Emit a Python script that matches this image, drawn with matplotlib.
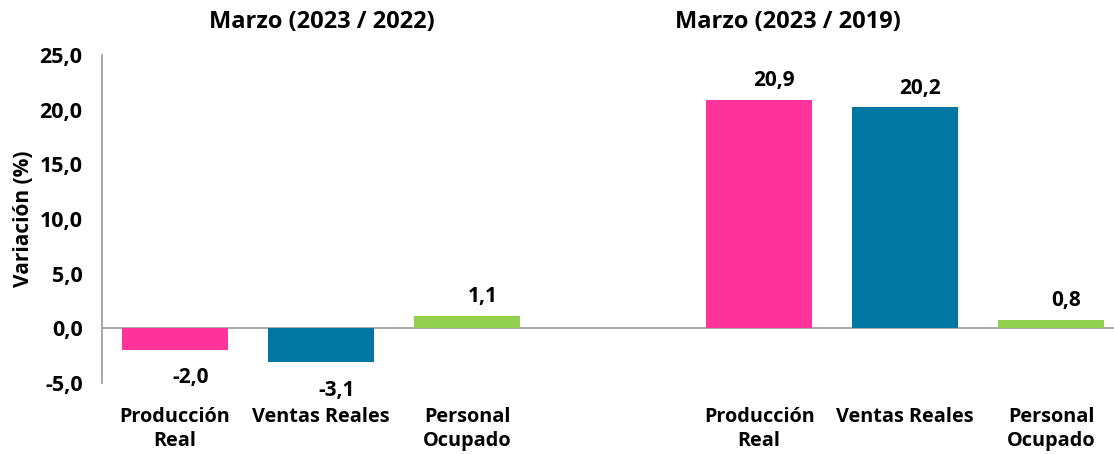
import matplotlib.pyplot as plt

plt.rcParams['font.family'] = ['Open Sans', 'DejaVu Sans']

# Data
categories = ["Producción\nReal", "Ventas Reales", "Personal\nOcupado"]
var_2023_2022 = [-2.0, -3.1, 1.1]
var_2023_2019 = [20.9, 20.2, 0.8]
colors = ["#FF3399", "#0077A2", "#92D050"]
titles = ["Marzo (2023 / 2022)", "Marzo (2023 / 2019)"]

fig = plt.figure(figsize=(11.14, 4.54), dpi=100)
ax = fig.add_axes([102 / 1114, 1 - 383 / 454, 1 - 102 / 1114, 328 / 454])

pos1 = [0, 1, 2]
pos2 = [4, 5, 6]
values = var_2023_2022 + var_2023_2019
positions = pos1 + pos2

bars = ax.bar(positions, values, width=0.726, color=colors * 2, zorder=2)

# value labels
for b, v in zip(bars, values):
    x = b.get_x() + b.get_width() / 2
    txt = f"{v:.1f}".replace(".", ",")
    if v >= 0:
        ax.annotate(txt, (x, v), xytext=(11, 14), textcoords="offset points",
                    ha="center", va="center", fontsize=15, fontweight="bold")
    else:
        ax.annotate(txt, (x, v), xytext=(11, -20), textcoords="offset points",
                    ha="center", va="center", fontsize=15, fontweight="bold")

ax.axhline(0, color="#999999", lw=1.2, zorder=1)
ax.set_ylim(-5, 25)
ax.set_xlim(-0.5, 6.43)
ax.set_yticks([-5, 0, 5, 10, 15, 20, 25])
ax.set_yticklabels([f"{t:.1f}".replace(".", ",") for t in ax.get_yticks()],
                   fontsize=15.5, fontweight="bold")
ax.tick_params(axis="y", length=0, pad=14)
ax.tick_params(axis="x", length=0, pad=17)
ax.set_xticks(positions)
ax.set_xticklabels(categories * 2, fontsize=14.3, fontweight="bold", va="top",
                   linespacing=1.3)

for s in ["top", "right", "bottom"]:
    ax.spines[s].set_visible(False)
ax.spines["left"].set_color("#999999")
ax.spines["left"].set_linewidth(1.2)

ax.set_ylabel("Variación (%)", fontsize=15, fontweight="bold", labelpad=4)

fig.text(322 / 1114, 1 - 22 / 454, titles[0], ha="center", va="center",
         fontsize=17, fontweight="bold")
fig.text(788 / 1114, 1 - 22 / 454, titles[1], ha="center", va="center",
         fontsize=17, fontweight="bold")

fig.savefig("out.png", dpi=100)
